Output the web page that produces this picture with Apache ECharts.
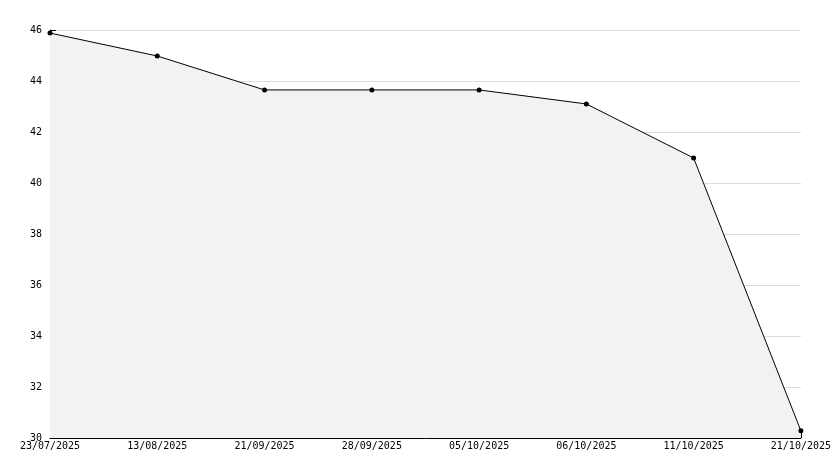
<!DOCTYPE html>
<html><head><meta charset="utf-8">
<script src="https://cdn.jsdelivr.net/npm/echarts@6/dist/echarts.min.js"></script>
<style>html,body{margin:0;background:#fff}#c{width:834px;height:468px}</style>
</head><body><div id="c"></div>
<script>
const dates = ['23/07/2025','13/08/2025','21/09/2025','28/09/2025','05/10/2025','06/10/2025','11/10/2025','21/10/2025'];
const values = [45.88, 44.98, 43.65, 43.65, 43.65, 43.1, 40.98, 30.28];

const font = {fontFamily: 'DejaVu Sans Mono', fontSize: 10, color: '#000'};
const chart = echarts.init(document.getElementById('c'));
chart.setOption({
    animation: false,
    grid: {left: 50, right: 29, top: 30, bottom: 30, containLabel: false},
    xAxis: {
        type: 'category', data: dates, boundaryGap: false,
        axisLine: {lineStyle: {color: '#000'}},
        axisTick: {inside: true, length: 6, lineStyle: {color: '#000'}},
        axisLabel: Object.assign({margin: 3, interval: 0}, font),
        splitLine: {show: false}
    },
    yAxis: {
        type: 'value', min: 30, max: 46, interval: 2,
        axisLine: {show: true, lineStyle: {color: '#000'}},
        axisTick: {show: true, inside: true, length: 6, lineStyle: {color: '#000'}},
        minorTick: {show: true, splitNumber: 2, length: 4, lineStyle: {color: '#000'}},
        axisLabel: Object.assign({margin: 8}, font),
        splitLine: {show: true, lineStyle: {color: '#ddd'}}
    },
    series: [{
        type: 'line', data: values,
        lineStyle: {color: '#000', width: 1},
        itemStyle: {color: '#000'},
        symbol: 'circle', symbolSize: 5,
        areaStyle: {color: '#f2f2f2', opacity: 1}
    }]
});
</script></body></html>
